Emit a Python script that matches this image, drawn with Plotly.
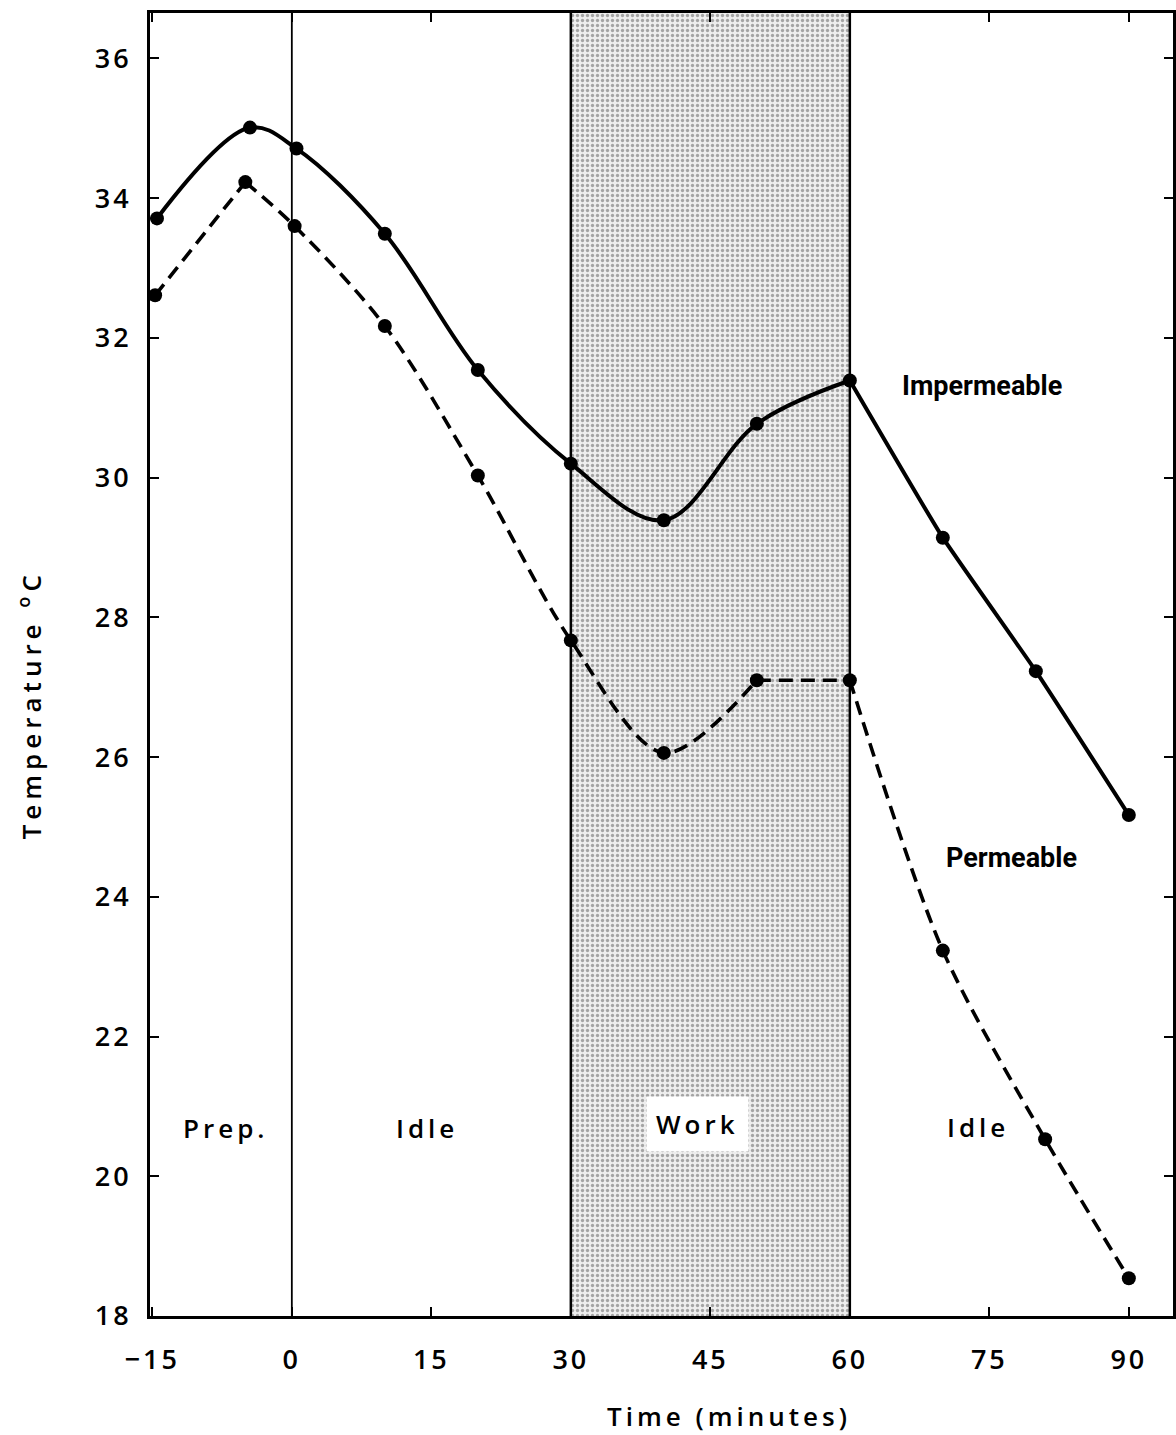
import plotly.graph_objects as go

# ---- data ----
time_imp = [-14.5, -4.5, 0.5, 10, 20, 30, 40, 50, 60, 70, 80, 90]
temp_imp = [33.71, 35.01, 34.71, 33.49, 31.54, 30.20, 29.39, 30.77, 31.39, 29.14, 27.23, 25.17]

time_perm = [-14.7, -5, 0.3, 10, 20, 30, 40, 50, 60, 70, 81, 90]
temp_perm = [32.61, 34.23, 33.60, 32.17, 30.03, 27.67, 26.06, 27.10, 27.10, 23.23, 20.53, 18.54]

phase_bounds = [0, 30, 60]
work_start, work_end = 30, 60

phase_labels = ["Prep.", "Idle", "Work", "Idle"]
phase_x = [-7.05, 14.55, 43.57, 73.77]
phase_y = [20.69, 20.69, 20.75, 20.71]

series_labels = ["Impermeable", "Permeable"]
series_label_x = [74.2, 77.4]
series_label_y = [31.31, 24.55]

x_ticks = [-15, 0, 15, 30, 45, 60, 75, 90]
x_ticktext = ["\u221215", "0", "15", "30", "45", "60", "75", "90"]
y_ticks = [18, 20, 22, 24, 26, 28, 30, 32, 34, 36]

x_title = "Time (minutes)"
y_title = "Temperature <sup>o</sup>C"

TICKFONT = dict(family="Open Sans, DejaVu Sans", size=27, color="black", weight=600)
LBLFONT = dict(family="Open Sans, DejaVu Sans", size=26, color="black", weight=600)
NARROW = dict(family="Liberation Sans Narrow, Roboto, sans-serif", size=27, color="black", weight=700)

def sp(t, s=3):
    return f"<span style='letter-spacing:{s}px'>{t}</span>"

fig = go.Figure()

# shaded work period (stipple)
fig.add_trace(go.Bar(
    x=[(work_start + work_end) / 2], y=[36.65 - 18], base=[18], width=[work_end - work_start],
    marker=dict(color="#f2f2f2", line=dict(width=0),
                pattern=dict(shape=".", fgcolor="#5a5a5a", bgcolor="#eeeeee", size=5, solidity=0.35)),
    hoverinfo="skip", showlegend=False))

# vertical phase lines
for b, w in zip(phase_bounds, [1.8, 2.5, 2.5]):
    fig.add_shape(type="line", x0=b, x1=b, y0=0, y1=1, xref="x", yref="paper",
                  line=dict(color="black", width=w), layer="above")

line_solid = dict(color="black", width=4)
line_dash = dict(color="black", width=3.6, dash="14px,8px")

# Impermeable curve
fig.add_trace(go.Scatter(x=time_imp[:9], y=temp_imp[:9], mode="lines", line_shape="spline",
                         line=dict(**line_solid, smoothing=1.0), showlegend=False, hoverinfo="skip"))
fig.add_trace(go.Scatter(x=time_imp[8:], y=temp_imp[8:], mode="lines", line_shape="spline",
                         line=dict(**line_solid, smoothing=0.4), showlegend=False, hoverinfo="skip"))
# Permeable curve
fig.add_trace(go.Scatter(x=time_perm[:2], y=temp_perm[:2], mode="lines",
                         line=line_dash, showlegend=False, hoverinfo="skip"))
fig.add_trace(go.Scatter(x=time_perm[1:8], y=temp_perm[1:8], mode="lines", line_shape="spline",
                         line=dict(**line_dash, smoothing=0.9), showlegend=False, hoverinfo="skip"))
fig.add_trace(go.Scatter(x=time_perm[7:9], y=temp_perm[7:9], mode="lines",
                         line=line_dash, showlegend=False, hoverinfo="skip"))
fig.add_trace(go.Scatter(x=time_perm[8:], y=temp_perm[8:], mode="lines", line_shape="spline",
                         line=dict(**line_dash, smoothing=0.8), showlegend=False, hoverinfo="skip"))

# markers
for xs, ys in [(time_imp, temp_imp), (time_perm, temp_perm)]:
    fig.add_trace(go.Scatter(x=xs, y=ys, mode="markers",
                             marker=dict(color="black", size=14), showlegend=False))

# phase labels
for t, x, y in zip(phase_labels, phase_x, phase_y):
    fig.add_annotation(x=x, y=y, text=sp(t, 4), showarrow=False, font=LBLFONT,
                       bgcolor="white" if t == "Work" else None,
                       borderpad=9 if t == "Work" else 0, xanchor="center", yanchor="middle")

for t, x, y in zip(series_labels, series_label_x, series_label_y):
    fig.add_annotation(x=x, y=y, text=t, showarrow=False, font=NARROW,
                       xanchor="center", yanchor="middle")

W, H = 1176, 1435
ml, mr, mt, mb = 150, 0, 13, 119
pw, ph = W - ml - mr, H - mt - mb

# axis titles placed in paper coords
fig.add_annotation(x=(731 - ml) / pw, y=(H - mb - 1416) / ph, xref="paper", yref="paper",
                   text=sp(x_title, 4), showarrow=False, font=LBLFONT, xanchor="center", yanchor="middle")
fig.add_annotation(x=(30 - ml) / pw, y=(H - mb - 705) / ph, xref="paper", yref="paper",
                   text=sp(y_title, 5), textangle=-90, showarrow=False, font=LBLFONT,
                   xanchor="center", yanchor="middle")

fig.update_layout(
    width=W, height=H, margin=dict(l=ml, r=mr, t=mt, b=mb),
    paper_bgcolor="white", plot_bgcolor="white", bargap=0,
    xaxis=dict(range=[-15.25, 94.75], tickvals=x_ticks, ticktext=[sp(t, 3) for t in x_ticktext],
               ticks="inside", ticklen=9, tickwidth=2, tickcolor="black",
               showline=True, linecolor="black", linewidth=2.5, mirror="ticks",
               showgrid=False, zeroline=False, tickfont=TICKFONT, ticklabelstandoff=18),
    yaxis=dict(range=[18, 36.65], tickvals=y_ticks, ticktext=[sp(str(v), 3) for v in y_ticks],
               ticks="inside", ticklen=9, tickwidth=2, tickcolor="black",
               showline=True, linecolor="black", linewidth=3, mirror="ticks",
               showgrid=False, zeroline=False, tickfont=TICKFONT, ticklabelstandoff=10),
)

fig.write_html("out.html")
